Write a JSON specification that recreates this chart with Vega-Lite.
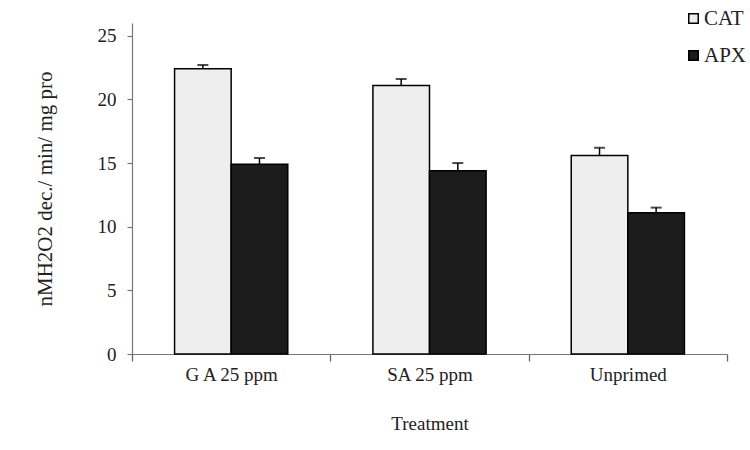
{
  "$schema": "https://vega.github.io/schema/vega-lite/v6.json",
  "width": 595,
  "height": 331,
  "autosize": {"type": "none"},
  "padding": {"left": 132, "top": 23, "right": 23, "bottom": 96},
  "background": "white",
  "config": {
    "view": {"stroke": null},
    "font": "Liberation Serif",
    "axis": {"labelFont": "Liberation Serif", "titleFont": "Liberation Serif", "labelColor": "#222", "titleColor": "#222", "titleFontWeight": "normal", "grid": false, "domainColor": "#777", "tickColor": "#777", "domainWidth": 1.2, "tickWidth": 1.2},
    "legend": {"labelFont": "Liberation Serif"}
  },
  "data": {
    "values": [
      {"treatment": "G A 25 ppm", "enzyme": "CAT", "value": 22.4, "upper": 22.7},
      {"treatment": "G A 25 ppm", "enzyme": "APX", "value": 14.9, "upper": 15.4},
      {"treatment": "SA 25 ppm", "enzyme": "CAT", "value": 21.1, "upper": 21.6},
      {"treatment": "SA 25 ppm", "enzyme": "APX", "value": 14.4, "upper": 15.0},
      {"treatment": "Unprimed", "enzyme": "CAT", "value": 15.6, "upper": 16.2},
      {"treatment": "Unprimed", "enzyme": "APX", "value": 11.1, "upper": 11.5}
    ]
  },
  "encoding": {
    "x": {
      "field": "treatment", "type": "nominal", "sort": null,
      "scale": {"paddingInner": 0, "paddingOuter": 0},
      "axis": {"title": "Treatment", "labelAngle": 0, "labelFont": "Liberation Serif", "labelFontSize": 19, "titleFontSize": 19, "tickBand": "extent", "ticks": true, "tickColor": "#666", "tickSize": 7, "tickWidth": 1.3, "labelPadding": 4, "titlePadding": 30}
    },
    "xOffset": {"field": "enzyme", "type": "nominal", "sort": ["CAT", "APX"], "scale": {"paddingInner": 0, "paddingOuter": 0.752}}
  },
  "layer": [
    {
      "mark": {"type": "bar", "stroke": "black", "strokeWidth": 1.5},
      "encoding": {
        "y": {"field": "value", "type": "quantitative", "scale": {"domain": [0, 25]},
          "axis": {"title": "nMH2O2  dec./ min/  mg pro", "values": [0, 5, 10, 15, 20, 25], "labelFont": "Liberation Serif", "labelFontSize": 19, "titleFontSize": 21, "tickSize": 5, "labelPadding": 11, "titlePadding": 42}},
        "color": {"field": "enzyme", "type": "nominal", "sort": ["CAT", "APX"],
          "scale": {"domain": ["CAT", "APX"], "range": ["#eeeeee", "#1c1c1c"]},
          "legend": {"title": null, "orient": "none", "legendX": 551, "legendY": -15, "symbolType": "square", "symbolSize": 90, "symbolStrokeColor": "black", "symbolStrokeWidth": 1.5, "labelFont": "Liberation Serif", "labelFontSize": 21, "labelColor": "#222", "rowPadding": 15, "labelOffset": 0}}
      }
    },
    {
      "mark": {"type": "rule", "color": "black", "strokeWidth": 1.5},
      "encoding": {
        "y": {"field": "value", "type": "quantitative"},
        "y2": {"field": "upper"}
      }
    },
    {
      "mark": {"type": "tick", "color": "black", "size": 11, "thickness": 2},
      "encoding": {
        "y": {"field": "upper", "type": "quantitative"}
      }
    }
  ]
}
